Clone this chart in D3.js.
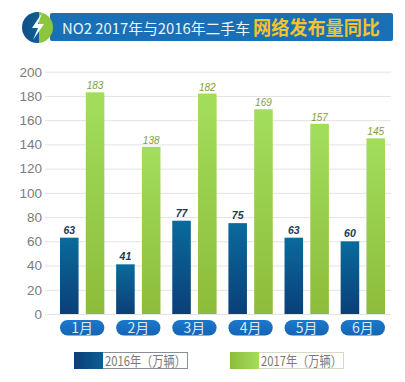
<!DOCTYPE html>
<html><head><meta charset="utf-8">
<script src="https://cdn.jsdelivr.net/npm/d3@7/dist/d3.min.js"></script>
<style>html,body{margin:0;padding:0;background:#fff}svg{display:block}</style>
</head><body><svg id="c" width="405" height="382"></svg>
<script>
const months=["1月","2月","3月","4月","5月","6月"];
const seriesNames=["2016年（万辆）","2017年（万辆）"];
const values2016=[63,41,77,75,63,60];
const values2017=[183,138,182,169,157,145];
const yTicks=[0,20,40,60,80,100,120,140,160,180,200];
const titleWhite="NO2 2017年与2016年二手车";
const titleGold="网络发布量同比";

const svg=d3.select("#c");
const font="'Liberation Sans','Noto Sans CJK SC',sans-serif";
const cjk="'Noto Sans CJK SC',sans-serif";
const defs=svg.append("defs");
function grad(id,stops,x2,y2){
  const g=defs.append("linearGradient").attr("id",id).attr("x1",0).attr("y1",0).attr("x2",x2).attr("y2",y2);
  stops.forEach(([o,c])=>g.append("stop").attr("offset",o).attr("stop-color",c));
}
grad("gBlue",[[0,"#0a6a9c"],[1,"#0b3f78"]],0,1);
grad("gGreen",[[0,"#a2de5c"],[1,"#8cbc3a"]],0,1);
grad("lBlue",[[0,"#0b3f78"],[1,"#0a5f95"]],1,0);
grad("lGreen",[[0,"#8cbc3a"],[1,"#a2de5c"]],1,0);
grad("gPill",[[0,"#1b78cc"],[1,"#1565b4"]],0,1);
grad("gIcon",[[0,"#0f4f86"],[0.55,"#0f5f96"],[0.56,"#8cc63f"],[1,"#8cc63f"]],1,0);

const y=d3.scaleLinear().domain([0,200]).range([314,71.7]);
const x=d3.scaleBand().domain(months).range([60,385]).paddingInner(0.21).paddingOuter(0);
const xs=d3.scaleBand().domain(seriesNames).range([0,x.bandwidth()]).paddingInner(0.28);

// banner
svg.append("rect").attr("x",50).attr("y",13).attr("width",343).attr("height",28).attr("rx",2).attr("fill","#1a70b6");
svg.append("circle").attr("cx",37.5).attr("cy",27.5).attr("r",15.5).attr("fill","url(#gIcon)");
svg.append("path").attr("d",d3.line()([[42,13],[32,28],[38,28],[33,40],[44,24],[38,24]])+"Z").attr("fill","#fff");
svg.append("text").attr("x",62).attr("y",33.5).attr("fill","#eaf4fb").attr("font-family",cjk)
  .attr("font-size",15).attr("textLength",188).attr("lengthAdjust","spacingAndGlyphs").text(titleWhite);
svg.append("text").attr("x",253).attr("y",35).attr("fill","#f2c230").attr("font-family",cjk).attr("font-weight",700)
  .attr("font-size",19).attr("textLength",127).attr("lengthAdjust","spacingAndGlyphs").text(titleGold);

// y axis
const yAxis=svg.append("g").attr("transform","translate(45,0)")
  .call(d3.axisLeft(y).tickValues(yTicks).tickSize(-346).tickPadding(3));
yAxis.select(".domain").remove();
yAxis.selectAll(".tick line").attr("stroke","#e3e3e3").attr("stroke-width",1);
yAxis.selectAll(".tick text").attr("fill","#7c7c7c").attr("font-family",font).attr("font-size",13.5);

// bars
const rows=months.map((m,i)=>({m,a:values2016[i],b:values2017[i]}));
const grp=svg.selectAll("g.m").data(rows).join("g").attr("class","m").attr("transform",d=>`translate(${x(d.m)},0)`);
grp.append("rect").attr("x",xs(seriesNames[0])).attr("width",xs.bandwidth()).attr("y",d=>y(d.a)).attr("height",d=>y(0)-y(d.a)).attr("fill","url(#gBlue)");
grp.append("rect").attr("x",xs(seriesNames[1])).attr("width",xs.bandwidth()).attr("y",d=>y(d.b)).attr("height",d=>y(0)-y(d.b)).attr("fill","url(#gGreen)");
grp.append("text").attr("x",xs(seriesNames[0])+xs.bandwidth()/2).attr("y",d=>y(d.a)-4).attr("text-anchor","middle")
  .attr("font-family",font).attr("font-size",10.5).attr("font-style","italic").attr("font-weight",700).attr("fill","#1d3a55").text(d=>d.a);
grp.append("text").attr("x",xs(seriesNames[1])+xs.bandwidth()/2).attr("y",d=>y(d.b)-3).attr("text-anchor","middle")
  .attr("font-family",font).attr("font-size",10).attr("font-style","italic").attr("fill","#7f9e3c").text(d=>d.b);

// month pills
grp.append("rect").attr("x",0).attr("y",320).attr("width",x.bandwidth()).attr("height",15.5).attr("rx",7.7).attr("fill","url(#gPill)");
grp.append("text").attr("x",x.bandwidth()/2).attr("y",333).attr("text-anchor","middle").attr("fill","#d5e9f8")
  .attr("font-family",cjk).attr("font-size",14).text(d=>d.m);

// legend
const lx=d3.scaleOrdinal().domain(seriesNames).range([74,230]);
const lg=svg.selectAll("g.l").data(seriesNames).join("g").attr("class","l").attr("transform",d=>`translate(${lx(d)},352)`);
lg.append("rect").attr("x",0.5).attr("y",0.5).attr("width",113).attr("height",16).attr("fill","#fff").attr("stroke",(d,i)=>i?"#d6dcc4":"#8a8f96");
lg.append("rect").attr("width",29).attr("height",17).attr("fill",(d,i)=>i?"url(#lGreen)":"url(#lBlue)");
lg.append("text").attr("x",31).attr("y",13.5).attr("fill","#7a7a7a").attr("font-family",cjk).attr("font-size",13.5).attr("textLength",81).attr("lengthAdjust","spacingAndGlyphs").text(d=>d);
</script></body></html>
